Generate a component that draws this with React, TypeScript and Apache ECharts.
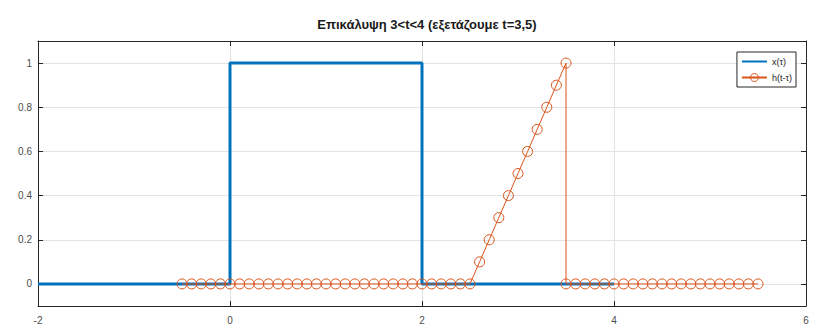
import React, { useEffect, useRef } from "react";
import * as echarts from "echarts";

const titleText = "Επικάλυψη 3<t<4 (εξετάζουμε t=3,5)";
const yTicks = [0, 0.2, 0.4, 0.6, 0.8, 1];

const xTau = [-2, 0, 0, 2, 2, 4];
const xVal = [0, 0, 1, 1, 0, 0];

const hTau = [
  -0.5, -0.4, -0.3, -0.2, -0.1, 0, 0.1, 0.2, 0.3, 0.4, 0.5, 0.6, 0.7, 0.8, 0.9, 1,
  1.1, 1.2, 1.3, 1.4, 1.5, 1.6, 1.7, 1.8, 1.9, 2, 2.1, 2.2, 2.3, 2.4, 2.5,
  2.6, 2.7, 2.8, 2.9, 3, 3.1, 3.2, 3.3, 3.4, 3.5,
  3.5,
  3.6, 3.7, 3.8, 3.9, 4, 4.1, 4.2, 4.3, 4.4, 4.5, 4.6, 4.7, 4.8, 4.9, 5, 5.1, 5.2,
  5.3, 5.4, 5.5,
];
const hVal = [
  0, 0, 0, 0, 0, 0, 0, 0, 0, 0, 0, 0, 0, 0, 0, 0,
  0, 0, 0, 0, 0, 0, 0, 0, 0, 0, 0, 0, 0, 0, 0,
  0.1, 0.2, 0.3, 0.4, 0.5, 0.6, 0.7, 0.8, 0.9, 1,
  0,
  0, 0, 0, 0, 0, 0, 0, 0, 0, 0, 0, 0, 0, 0, 0, 0, 0,
  0, 0, 0,
];

const BLUE = "#0072BD";
const ORANGE = "#D95319";
const AXIS = "#262626";
const FONT = "Liberation Sans, Arial, sans-serif";

export default function App() {
  const ref = useRef<HTMLDivElement>(null);
  useEffect(() => {
    if (!ref.current) return;
    const chart = echarts.init(ref.current, undefined, { renderer: "svg" });
    const axisLine = { show: true, onZero: false, lineStyle: { color: AXIS, width: 1 } };
    const tick = { show: true, inside: true, length: 5, lineStyle: { color: AXIS } };
    const xBase = { type: "value" as const, min: -2, max: 6, interval: 2 };
    const yBase = { type: "value" as const, min: -0.1, max: 1.1 };
    chart.setOption({
      animation: false,
      title: {
        text: titleText,
        left: 422,
        textAlign: "center",
        top: 13,
        textStyle: { fontFamily: FONT, fontSize: 13, fontWeight: "bold", color: "#1a1a1a" },
      },
      grid: { left: 38, right: 7, top: 41, bottom: 24, containLabel: false },
      legend: {
        right: 17,
        top: 52,
        orient: "vertical",
        backgroundColor: "#fff",
        borderColor: "#262626",
        borderWidth: 1,
        borderRadius: 0,
        padding: [5, 4, 5, 4],
        itemGap: 7,
        itemWidth: 25,
        itemHeight: 10,
        textStyle: { fontFamily: FONT, fontSize: 9, color: "#222" },
        data: [
          { name: "x(τ)", itemStyle: { color: "rgba(0,0,0,0)", borderWidth: 0 } },
          { name: "h(t-τ)", itemStyle: { color: "rgba(0,0,0,0)", borderColor: ORANGE, borderWidth: 1 } },
        ],
      },
      xAxis: [
        {
          ...xBase,
          position: "bottom",
          axisLine,
          axisTick: tick,
          axisLabel: { fontFamily: FONT, fontSize: 10, color: "#4d4d4d", margin: 9 },
          splitLine: { show: true, lineStyle: { color: "#e3e3e3", width: 1 } },
        },
        {
          ...xBase,
          position: "top",
          axisLine,
          axisTick: tick,
          axisLabel: { show: false },
          splitLine: { show: false },
        },
      ],
      yAxis: [
        {
          ...yBase,
          position: "left",
          axisLine,
          axisTick: { ...tick, customValues: yTicks },
          axisLabel: { customValues: yTicks, fontFamily: FONT, fontSize: 10, color: "#4d4d4d", margin: 6 },
          splitLine: { show: true, lineStyle: { color: "#e3e3e3", width: 1 } },
        },
        {
          ...yBase,
          position: "right",
          axisLine,
          axisTick: { ...tick, customValues: yTicks },
          axisLabel: { show: false },
          splitLine: { show: false },
        },
      ],
      series: [
        {
          name: "x(τ)",
          type: "line",
          xAxisIndex: 0,
          yAxisIndex: 0,
          data: xTau.map((t, i) => [t, xVal[i]]),
          showSymbol: false,
          symbol: "none",
          color: BLUE,
          lineStyle: { color: BLUE, width: 3 },
          z: 2,
        },
        {
          name: "h(t-τ)",
          type: "line",
          xAxisIndex: 0,
          yAxisIndex: 0,
          data: hTau.map((t, i) => [t, hVal[i]]),
          symbol: "circle",
          symbolSize: 10,
          showAllSymbol: true,
          color: ORANGE,
          lineStyle: { color: ORANGE, width: 1 },
          itemStyle: { color: "rgba(0,0,0,0)", borderColor: ORANGE, borderWidth: 1 },
          z: 3,
        },
      ],
    });
    return () => chart.dispose();
  }, []);
  return (
    <div
      ref={ref}
      style={{ position: "fixed", left: 0, top: 0, width: 813, height: 330, background: "#fff" }}
    />
  );
}
